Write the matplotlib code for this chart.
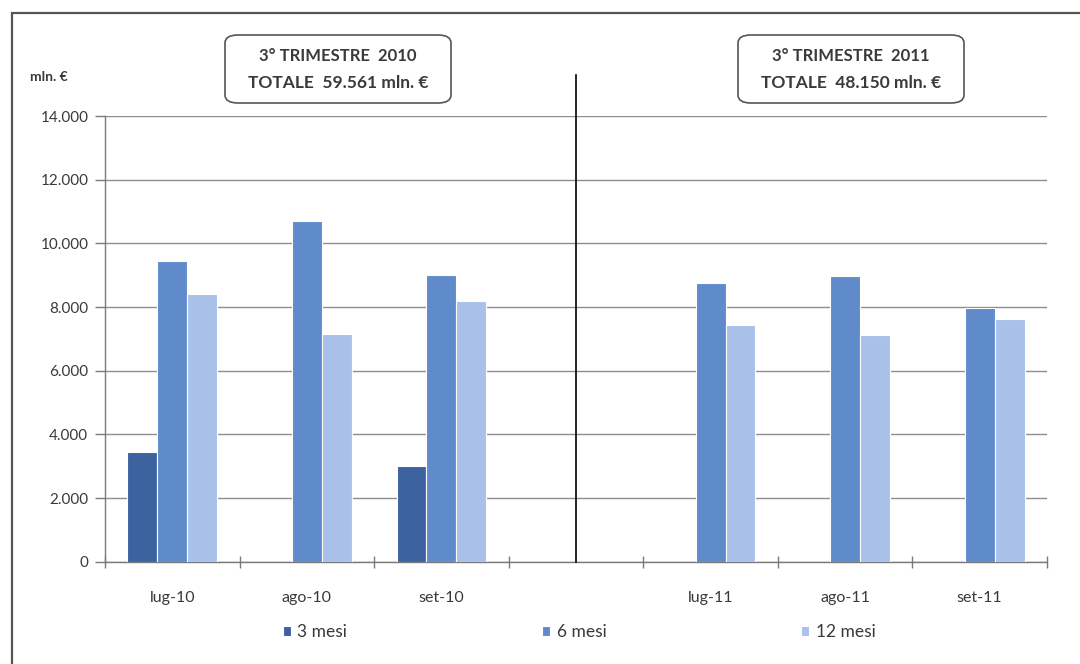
import numpy as np
import matplotlib
matplotlib.use("Agg")
import matplotlib.pyplot as plt
from matplotlib.patches import FancyBboxPatch, Rectangle

plt.rcParams['font.family'] = ['Lato', 'DejaVu Sans']

# data (mln. euro), the empty slot separates the two quarters
months = ["lug-10", "ago-10", "set-10", "", "lug-11", "ago-11", "set-11"]
mesi_3 = [3455, np.nan, 3010, np.nan, np.nan, np.nan, np.nan]
mesi_6 = [9460, 10700, 8990, np.nan, 8760, 8960, 7970]
mesi_12 = [8420, 7150, 8200, np.nan, 7450, 7110, 7620]
series_names = ["3 mesi", "6 mesi", "12 mesi"]
y_ticks = [0, 2000, 4000, 6000, 8000, 10000, 12000, 14000]
box_left = ["3° TRIMESTRE  2010", "TOTALE  59.561 mln. €"]
box_right = ["3° TRIMESTRE  2011", "TOTALE  48.150 mln. €"]

colors = ["#3D62A0", "#5F8BCB", "#A9C1E9"]
txt_col = "#3a3a3a"
W, H = 1080, 664

fig = plt.figure(figsize=(W / 100, H / 100), dpi=100)
ax = fig.add_axes([105 / W, 1 - 561.7 / H, 942 / W, 445.7 / H])

x = np.arange(len(months))
bw = 0.222
for i, (vals, name) in enumerate(zip([mesi_3, mesi_6, mesi_12], series_names)):
    ax.bar(x + (i - 1) * bw, vals, width=bw, color=colors[i],
           edgecolor="white", linewidth=0.8, label=name, zorder=3)

ax.set_xlim(-0.5, len(months) - 0.5)
ax.set_ylim(0, 14000)
ax.set_yticks(y_ticks)
ax.set_yticklabels([f"{v:,}".replace(",", ".") for v in y_ticks])
ax.yaxis.grid(True, color="#8e8e8e", linewidth=1.0, zorder=0)
ax.set_axisbelow(True)

ax.set_xticks(x)
ax.set_xticklabels(months)
ax.set_xticks(np.arange(-0.5, len(months)), minor=True)
ax.tick_params(axis="x", which="major", length=0, pad=21, labelsize=11.5,
               labelcolor=txt_col)
ax.tick_params(axis="x", which="minor", length=8, direction="inout",
               color="#7a7a7a", width=1)
ax.tick_params(axis="y", length=7, direction="out", color="#7a7a7a",
               width=1, pad=5, labelsize=11, labelcolor=txt_col)

for s in ["top", "right"]:
    ax.spines[s].set_visible(False)
for s in ["left", "bottom"]:
    ax.spines[s].set_color("#7a7a7a")
    ax.spines[s].set_linewidth(1)

# divider between the two quarters
ax.axvline(3, ymin=0, ymax=(561.7 - 75) / 445.7, color="black",
           linewidth=1.2, clip_on=False, zorder=4)

# outer frame
fig.patches.append(Rectangle((12 / W, -0.1), 1.2, 1 - 13 / H + 0.1,
                             transform=fig.transFigure, fill=False,
                             edgecolor="#555555", linewidth=1.6))

fig.text(30 / W, 1 - 77 / H, "mln. €", fontsize=10, fontweight="bold",
         color=txt_col, va="center", ha="left")

for cx, lines in [(338, box_left), (851, box_right)]:
    fig.patches.append(FancyBboxPatch(((cx - 113) / W, 1 - 103 / H), 226 / W, 68 / H,
                                      boxstyle="round,pad=0,rounding_size=0.012",
                                      transform=fig.transFigure, fill=True,
                                      facecolor="white", edgecolor="#555555",
                                      linewidth=1.2))
    fig.text(cx / W, 1 - 56 / H, lines[0], fontsize=12, fontweight="bold",
             color=txt_col, ha="center", va="center")
    fig.text(cx / W, 1 - 83 / H, lines[1], fontsize=12.5, fontweight="bold",
             color=txt_col, ha="center", va="center")

fig.legend(loc="center", bbox_to_anchor=(579 / W, 1 - 632 / H), ncol=3,
           frameon=False, fontsize=12.5, handlelength=0.5, handleheight=0.5,
           handletextpad=0.35, columnspacing=11.2, labelcolor=txt_col)

fig.savefig("out.png", dpi=100, facecolor="white")
